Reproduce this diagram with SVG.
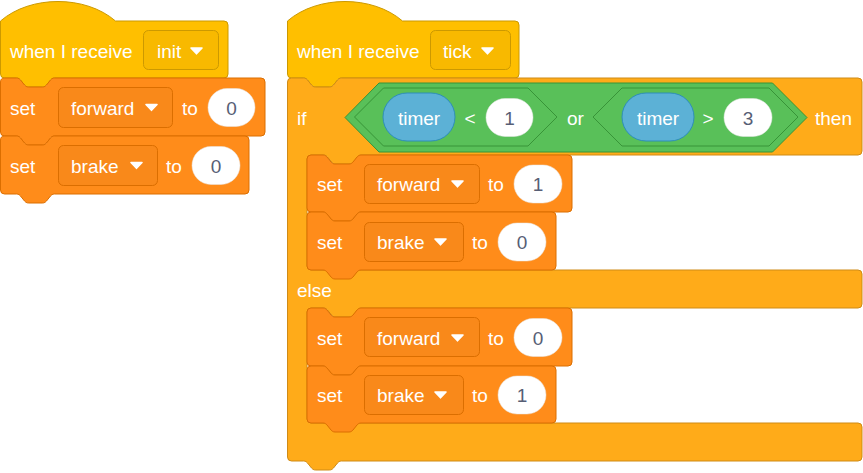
<svg xmlns="http://www.w3.org/2000/svg" xmlns:xlink="http://www.w3.org/1999/xlink" width="863" height="473" viewBox="0 0 863 473">
<style>
text{font-family:"Liberation Sans",Arial,Helvetica,sans-serif;font-size:19px;fill:#fff}
.num{fill:#575e75;text-anchor:middle}
.mid{text-anchor:middle}
.hat{fill:#ffbf00;stroke:#cc9900;stroke-width:1}
.hatdd{fill:#f8b900;stroke:#cc9900;stroke-width:1}
.var{fill:#ff8c1a;stroke:#db6e00;stroke-width:1}
.vardd{fill:#f9891a;stroke:#db6e00;stroke-width:1}
.ctl{fill:#ffab19;stroke:#cf8b17;stroke-width:1}
.op{fill:#59c059;stroke:#389438;stroke-width:1}
.sens{fill:#5cb1d6;stroke:#2e8eb8;stroke-width:1}
.oval{fill:#fff;stroke:#e6e6e6;stroke-width:0.5}
</style>
<defs>
<path id="arr" d="M1,1 h11 l-5.5,5.8 z" fill="#fff" stroke="#fff" stroke-width="1.6" stroke-linejoin="round"/>
</defs>

<!-- Left stack -->
<g id="hat-init">
<path class="hat" d="M0.5,21 c30,-26 85,-26 115,0 H224 a4,4 0 0 1 4,4 V74 a4,4 0 0 1 -4,4 H54.5 c-2,0 -3,1 -4,2 l-4,5 c-1,1 -2,2 -4,2 h-14 c-2,0 -3,-1 -4,-2 l-4,-5 c-1,-1 -2,-2 -4,-2 H4.5 a4,4 0 0 1 -4,-4 Z"/>
<text x="10" y="58">when I receive</text>
<rect class="hatdd" x="143.5" y="30.5" width="75" height="39" rx="5"/>
<text x="157" y="58">init</text>
<use xlink:href="#arr" x="190" y="47"/>
</g>

<g id="set-forward-0">
<path class="var" d="M0.5,82 a4,4 0 0 1 4,-4 H16.5 c2,0 3,1 4,2 l4,5 c1,1 2,2 4,2 h14 c2,0 3,-1 4,-2 l4,-5 c1,-1 2,-2 4,-2 H261 a4,4 0 0 1 4,4 V132 a4,4 0 0 1 -4,4 H54.5 c-2,0 -3,1 -4,2 l-4,5 c-1,1 -2,2 -4,2 h-14 c-2,0 -3,-1 -4,-2 l-4,-5 c-1,-1 -2,-2 -4,-2 H4.5 a4,4 0 0 1 -4,-4 Z"/>
<text x="10" y="115">set</text>
<rect class="vardd" x="58.5" y="87.5" width="114" height="40" rx="5"/>
<text x="71" y="115">forward</text>
<use xlink:href="#arr" x="145" y="103.5"/>
<text x="182" y="115">to</text>
<rect class="oval" x="208" y="88.5" width="47" height="38" rx="19"/>
<text class="num" x="231.5" y="115">0</text>
</g>

<g id="set-brake-0">
<path class="var" d="M0.5,140 a4,4 0 0 1 4,-4 H16.5 c2,0 3,1 4,2 l4,5 c1,1 2,2 4,2 h14 c2,0 3,-1 4,-2 l4,-5 c1,-1 2,-2 4,-2 H245 a4,4 0 0 1 4,4 V190 a4,4 0 0 1 -4,4 H54.5 c-2,0 -3,1 -4,2 l-4,5 c-1,1 -2,2 -4,2 h-14 c-2,0 -3,-1 -4,-2 l-4,-5 c-1,-1 -2,-2 -4,-2 H4.5 a4,4 0 0 1 -4,-4 Z"/>
<text x="10" y="173">set</text>
<rect class="vardd" x="58.5" y="145.5" width="99" height="40" rx="5"/>
<text x="71" y="173">brake</text>
<use xlink:href="#arr" x="130" y="161.5"/>
<text x="166" y="173">to</text>
<rect class="oval" x="192" y="146.5" width="48" height="38" rx="19"/>
<text class="num" x="216" y="173">0</text>
</g>

<!-- Right stack -->
<g id="hat-tick">
<path class="hat" d="M287.5,21 c30,-26 85,-26 115,0 H515 a4,4 0 0 1 4,4 V74 a4,4 0 0 1 -4,4 H341.5 c-2,0 -3,1 -4,2 l-4,5 c-1,1 -2,2 -4,2 h-14 c-2,0 -3,-1 -4,-2 l-4,-5 c-1,-1 -2,-2 -4,-2 H291.5 a4,4 0 0 1 -4,-4 Z"/>
<text x="297" y="58">when I receive</text>
<rect class="hatdd" x="430.5" y="30.5" width="80" height="39" rx="5"/>
<text x="443" y="58">tick</text>
<use xlink:href="#arr" x="481" y="47"/>
</g>

<g id="if-else">
<path class="ctl" d="M287.5,82 a4,4 0 0 1 4,-4 H303.5 c2,0 3,1 4,2 l4,5 c1,1 2,2 4,2 h14 c2,0 3,-1 4,-2 l4,-5 c1,-1 2,-2 4,-2 H858 a4,4 0 0 1 4,4 V151 a4,4 0 0 1 -4,4 H361.5 c-2,0 -3,1 -4,2 l-4,5 c-1,1 -2,2 -4,2 h-14 c-2,0 -3,-1 -4,-2 l-4,-5 c-1,-1 -2,-2 -4,-2 H311 a4,4 0 0 0 -4,4 V266 a4,4 0 0 0 4,4 H858 a4,4 0 0 1 4,4 V304 a4,4 0 0 1 -4,4 H361.5 c-2,0 -3,1 -4,2 l-4,5 c-1,1 -2,2 -4,2 h-14 c-2,0 -3,-1 -4,-2 l-4,-5 c-1,-1 -2,-2 -4,-2 H311 a4,4 0 0 0 -4,4 V419 a4,4 0 0 0 4,4 H858 a4,4 0 0 1 4,4 V457 a4,4 0 0 1 -4,4 H341.5 c-2,0 -3,1 -4,2 l-4,5 c-1,1 -2,2 -4,2 h-14 c-2,0 -3,-1 -4,-2 l-4,-5 c-1,-1 -2,-2 -4,-2 H291.5 a4,4 0 0 1 -4,-4 Z"/>
<text x="297" y="125">if</text>
<text x="297" y="297">else</text>
</g>

<g id="or-block">
<polygon class="op" points="345,117.5 379,83 772.5,83 807,117.5 772.5,152 379,152"/>
<text x="567" y="125">or</text>
</g>

<g id="lt-block">
<polygon class="op" points="354.5,117 383.5,88 528,88 557,117 528,146 383.5,146"/>
<rect class="sens" x="383" y="93" width="72" height="48" rx="24"/>
<text class="mid" x="419" y="125">timer</text>
<text class="mid" x="470" y="125">&lt;</text>
<rect class="oval" x="486" y="98.5" width="47" height="38" rx="19"/>
<text class="num" x="509.5" y="125">1</text>
</g>

<g id="gt-block">
<polygon class="op" points="593,117 622,88 769,88 798,117 769,146 622,146"/>
<rect class="sens" x="622" y="93" width="72" height="48" rx="24"/>
<text class="mid" x="658" y="125">timer</text>
<text class="mid" x="708" y="125">&gt;</text>
<rect class="oval" x="724" y="98.5" width="48" height="38" rx="19"/>
<text class="num" x="748" y="125">3</text>
</g>
<text x="815" y="125">then</text>

<g id="set-forward-1">
<path class="var" d="M307,159 a4,4 0 0 1 4,-4 H323 c2,0 3,1 4,2 l4,5 c1,1 2,2 4,2 h14 c2,0 3,-1 4,-2 l4,-5 c1,-1 2,-2 4,-2 H568 a4,4 0 0 1 4,4 V208 a4,4 0 0 1 -4,4 H361 c-2,0 -3,1 -4,2 l-4,5 c-1,1 -2,2 -4,2 h-14 c-2,0 -3,-1 -4,-2 l-4,-5 c-1,-1 -2,-2 -4,-2 H311 a4,4 0 0 1 -4,-4 Z"/>
<text x="317" y="191">set</text>
<rect class="vardd" x="364.5" y="164.5" width="115" height="39" rx="5"/>
<text x="377" y="191">forward</text>
<use xlink:href="#arr" x="451" y="180"/>
<text x="488" y="191">to</text>
<rect class="oval" x="514" y="165" width="48" height="38" rx="19"/>
<text class="num" x="538" y="191">1</text>
</g>

<g id="set-brake-1">
<path class="var" d="M307,216 a4,4 0 0 1 4,-4 H323 c2,0 3,1 4,2 l4,5 c1,1 2,2 4,2 h14 c2,0 3,-1 4,-2 l4,-5 c1,-1 2,-2 4,-2 H552 a4,4 0 0 1 4,4 V266 a4,4 0 0 1 -4,4 H361 c-2,0 -3,1 -4,2 l-4,5 c-1,1 -2,2 -4,2 h-14 c-2,0 -3,-1 -4,-2 l-4,-5 c-1,-1 -2,-2 -4,-2 H311 a4,4 0 0 1 -4,-4 Z"/>
<text x="317" y="249">set</text>
<rect class="vardd" x="364.5" y="222.5" width="99" height="39" rx="5"/>
<text x="377" y="249">brake</text>
<use xlink:href="#arr" x="434" y="238"/>
<text x="472" y="249">to</text>
<rect class="oval" x="498" y="223" width="48" height="38" rx="19"/>
<text class="num" x="522" y="249">0</text>
</g>

<g id="set-forward-2">
<path class="var" d="M307,312 a4,4 0 0 1 4,-4 H323 c2,0 3,1 4,2 l4,5 c1,1 2,2 4,2 h14 c2,0 3,-1 4,-2 l4,-5 c1,-1 2,-2 4,-2 H568 a4,4 0 0 1 4,4 V362 a4,4 0 0 1 -4,4 H361 c-2,0 -3,1 -4,2 l-4,5 c-1,1 -2,2 -4,2 h-14 c-2,0 -3,-1 -4,-2 l-4,-5 c-1,-1 -2,-2 -4,-2 H311 a4,4 0 0 1 -4,-4 Z"/>
<text x="317" y="345">set</text>
<rect class="vardd" x="364.5" y="317.5" width="115" height="39" rx="5"/>
<text x="377" y="345">forward</text>
<use xlink:href="#arr" x="451" y="334"/>
<text x="488" y="345">to</text>
<rect class="oval" x="514" y="318.5" width="48" height="38" rx="19"/>
<text class="num" x="538" y="345">0</text>
</g>

<g id="set-brake-2">
<path class="var" d="M307,370 a4,4 0 0 1 4,-4 H323 c2,0 3,1 4,2 l4,5 c1,1 2,2 4,2 h14 c2,0 3,-1 4,-2 l4,-5 c1,-1 2,-2 4,-2 H552 a4,4 0 0 1 4,4 V419 a4,4 0 0 1 -4,4 H361 c-2,0 -3,1 -4,2 l-4,5 c-1,1 -2,2 -4,2 h-14 c-2,0 -3,-1 -4,-2 l-4,-5 c-1,-1 -2,-2 -4,-2 H311 a4,4 0 0 1 -4,-4 Z"/>
<text x="317" y="402">set</text>
<rect class="vardd" x="364.5" y="375.5" width="99" height="39" rx="5"/>
<text x="377" y="402">brake</text>
<use xlink:href="#arr" x="434" y="391"/>
<text x="472" y="402">to</text>
<rect class="oval" x="498" y="376" width="48" height="38" rx="19"/>
<text class="num" x="522" y="402">1</text>
</g>
</svg>
